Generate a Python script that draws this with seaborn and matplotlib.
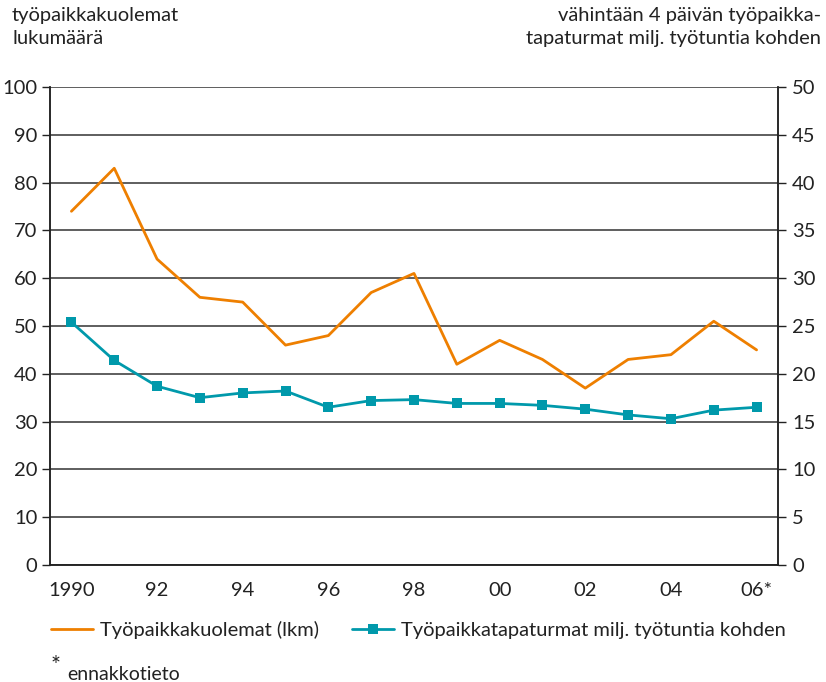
import numpy as np
import pandas as pd
import matplotlib
matplotlib.use("Agg")
import matplotlib.pyplot as plt
import seaborn as sns

# data
years = list(range(1990, 2007))
deaths = [74, 83, 64, 56, 55, 46, 48, 57, 61, 42, 47, 43, 37, 43, 44, 51, 45]
accidents = [25.4, 21.4, 18.7, 17.5, 18.0, 18.2, 16.5, 17.2, 17.3, 16.9, 16.9, 16.7, 16.3, 15.7, 15.3, 16.2, 16.5]
year_labels = ["1990", "92", "94", "96", "98", "00", "02", "04", "06*"]

orange = "#EE7F00"
teal = "#0099AB"
ink = "#222222"
fs = 14.5

sns.set_style("white")
plt.rcParams['font.family'] = ['Lato', 'DejaVu Sans']
plt.rcParams['font.size'] = fs

df = pd.DataFrame({"year": years, "deaths": deaths, "accidents": accidents})

fig = plt.figure(figsize=(8.26, 6.82), dpi=100)
ax = fig.add_axes([50/826, 1 - 565/682, 728/826, 478/682])
ax2 = ax.twinx()

sns.lineplot(data=df, x="year", y="deaths", ax=ax, color=orange, linewidth=2.0,
             label="Työpaikkakuolemat (lkm)", legend=False)
sns.lineplot(data=df, x="year", y="accidents", ax=ax2, color=teal, linewidth=2.0,
             marker="s", markersize=7, markeredgewidth=0,
             label="Työpaikkatapaturmat milj. työtuntia kohden", legend=False)

ax.set_xlim(1989.5, 2006.5)
ax.set_ylim(0, 100)
ax2.set_ylim(0, 50)
ax.set_yticks(np.arange(0, 101, 10))
ax2.set_yticks(np.arange(0, 51, 5))
ax.yaxis.grid(True, color="#333333", linewidth=1.1)
ax.set_axisbelow(True)

# labels at the data points, ticks between the years
ax.set_xticks(years[::2])
ax.set_xticklabels(year_labels)
ax.set_xticks(np.arange(1989.5, 2007, 1), minor=True)
ax.tick_params(axis="x", which="major", length=0, pad=12, labelsize=fs, colors=ink)
ax.tick_params(axis="x", which="minor", length=5, width=1, direction="out", color=ink)
ax.tick_params(axis="y", length=6, width=1, direction="out", pad=3, labelsize=fs, colors=ink)
ax2.tick_params(axis="y", length=6, width=1, direction="out", pad=4, labelsize=fs, colors=ink)

ax.set_xlabel("")
ax.set_ylabel("")
ax2.set_ylabel("")
for a in (ax, ax2):
    a.spines["top"].set_visible(False)
    for s in ("left", "right", "bottom"):
        a.spines[s].set_color(ink)
        a.spines[s].set_linewidth(1.1)

fig.text(12/826, 1 - 7/682, "työpaikkakuolemat\nlukumäärä", ha="left", va="top",
         fontsize=fs, color=ink, linespacing=1.4)
fig.text(821/826, 1 - 7/682, "vähintään 4 päivän työpaikka-\ntapaturmat milj. työtuntia kohden",
         ha="right", va="top", fontsize=fs, color=ink, linespacing=1.4)

h1, l1 = ax.get_legend_handles_labels()
h2, l2 = ax2.get_legend_handles_labels()
fig.legend(h1 + h2, l1 + l2, loc="center left", bbox_to_anchor=(51/826, 1 - 630/682),
           ncol=2, frameon=False, fontsize=fs, handlelength=2.1, handletextpad=0.35,
           columnspacing=1.6, borderpad=0, borderaxespad=0, labelcolor=ink)

fig.text(51/826, 1 - 655/682, "*", ha="left", va="top", fontsize=17, color=ink)
fig.text(67/826, 1 - 674/682, "ennakkotieto", ha="left", va="center", fontsize=fs - 0.5, color=ink)

fig.savefig("out.png", dpi=100)
